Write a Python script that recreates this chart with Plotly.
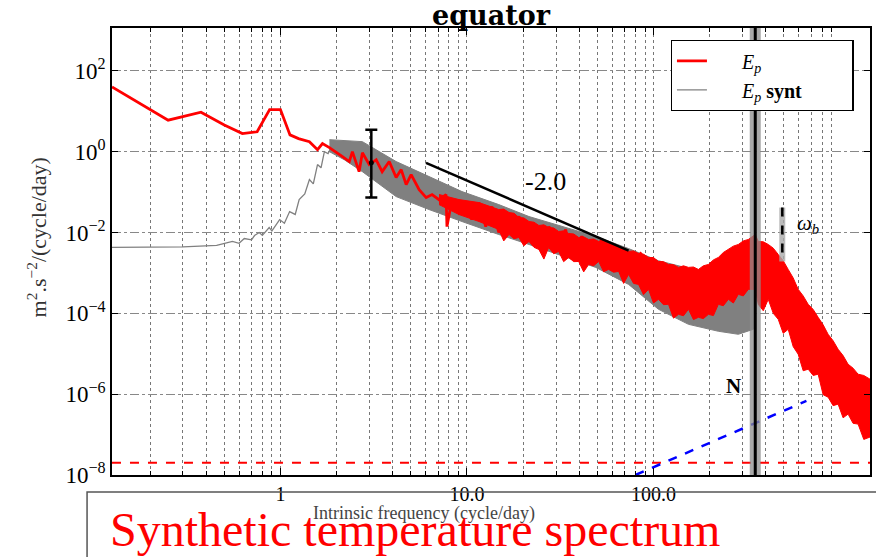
import plotly.graph_objects as go

SERIF = "Liberation Serif"

# ---------------- data ----------------
# E_p (red) : low-frequency line and jagged mid range
ep_freq = [0.125, 0.25, 0.375, 0.5, 0.625, 0.75, 0.875, 1.0, 1.125, 1.25,
           1.43, 1.58, 1.68, 1.83, 2.15, 2.34, 2.43, 2.64, 2.75, 2.99,
           3.26, 3.51, 3.83, 4.17, 4.44, 4.72, 5.02, 5.54, 6.04, 6.50,
           7.08, 7.72, 7.81, 8.31, 9.06, 9.88, 10.6, 11.6, 12.6, 13.6,
           14.8, 16.2, 17.4, 19.0, 20.7, 22.3, 25.2, 27.5, 31.0, 33.8,
           36.4, 41.2, 46.6, 52.7, 59.6, 65.0, 73.5, 86.3]
ep_vals = [40, 6.0, 9.5, 4.6, 2.8, 3.1, 11, 11, 2.6, 2.1,
           1.77, 1.12, 1.58, 1.26, 0.75, 0.57, 1.0, 0.32, 0.94, 0.48,
           0.63, 0.32, 0.57, 0.23, 0.36, 0.153, 0.27, 0.115, 0.073, 0.087,
           0.065, 0.087, 0.014, 0.065, 0.031, 0.058, 0.021, 0.055, 0.014, 0.044,
           0.010, 0.028, 0.0119, 0.025, 0.0067, 0.0177, 0.0032, 0.014, 0.0038, 0.0119,
           0.0022, 0.008, 0.0022, 0.0067, 0.0018, 0.0043, 0.00145, 0.0032]

# E_p (red) dense high-frequency band: upper / lower envelopes
band_freq = [7.08, 9.06, 11.6, 14.8, 15.74, 16.8, 17.87, 18.97, 20.17, 21.5,
             22.87, 24.3, 25.84, 27.4, 29.14, 31.0, 32.97, 35.1, 37.33, 39.7,
             42.22, 44.9, 47.75, 50.8, 54.03, 57.4, 61.04, 65.0, 69.13, 73.5,
             78.17, 83.1, 88.38, 94.0, 99.97, 106.3, 113.0, 120.3, 127.9, 136.1,
             144.7, 153.9, 163.7, 174.0, 185.0, 196.9, 209.4, 222.6, 236.7, 251.8,
             267.8, 284.8, 302.9, 322.2, 351, 364.4, 387.5, 412.1, 438.3, 466.1,
             495.7, 527.2, 560.7, 596.3, 634.2, 674.5, 717.3, 762.9, 811.3, 862.8,
             917.6, 976, 1038, 1104, 1174, 1249, 1340, 1447]
band_up = [0.087, 0.0653, 0.055, 0.037, 0.038, 0.0312, 0.030, 0.0235, 0.023, 0.0187,
           0.018, 0.0149, 0.0155, 0.0133, 0.013, 0.0106, 0.011, 0.00944, 0.0092, 0.00753,
           0.0078, 0.00672, 0.0069, 0.006, 0.0062, 0.00535, 0.0052, 0.00427, 0.0042, 0.0034,
           0.0035, 0.00303, 0.0029, 0.00242, 0.0024, 0.00192, 0.0019, 0.00162, 0.0016, 0.00137,
           0.0015, 0.00137, 0.0014, 0.00122, 0.0015, 0.00162, 0.0021, 0.00242, 0.0032, 0.0038,
           0.0046, 0.00506, 0.0062, 0.00672, 0.00893, 0.0060, 0.0059, 0.00506, 0.0041, 0.00286,
           0.0020, 0.00122, 0.00075, 0.000392, 0.00027, 0.000167, 0.000125, 7.97e-5, 5.2e-5, 3.03e-5,
           2.1e-5, 1.29e-5, 9.0e-6, 5.51e-6, 4.4e-6, 3.12e-6, 2.9e-6, 2.35e-6]
band_lo = [0.0491, 0.0278, 0.0187, 0.0119, 0.0062, 0.00893, 0.0070, 0.00753, 0.0047, 0.006,
           0.0043, 0.0038, 0.0022, 0.00427, 0.0030, 0.0034, 0.0019, 0.00242, 0.0019, 0.00192,
           0.00106, 0.00162, 0.0015, 0.00192, 0.00107, 0.00122, 0.00104, 0.00109, 0.00055, 0.000918,
           0.00055, 0.00052, 0.00029, 0.000392, 0.00018, 0.000222, 0.000164, 0.000167, 7.6e-5, 9.45e-5,
           8.7e-5, 0.000126, 7e-5, 7.97e-5, 7.4e-5, 9.45e-5, 8.8e-5, 0.000167, 0.000154, 0.000222,
           0.00018, 0.000295, 0.00027, 0.000392, 0.000392, 0.000167, 0.000116, 0.000222, 0.0001, 7.11e-5,
           3.2e-5, 4.03e-5, 1.5e-5, 9.72e-6, 3.8e-6, 4.15e-6, 2.9e-6, 3.12e-6, 9.7e-7, 8.43e-7,
           5.2e-7, 5.67e-7, 2.6e-7, 3.21e-7, 1.9e-7, 1.82e-7, 7.6e-8, 8.67e-8]

# E_p synt (gray): thin low-frequency line and band
syn_freq = [0.125, 0.2, 0.3, 0.455, 0.553, 0.6, 0.64, 0.7, 0.726, 0.77,
            0.8, 0.87, 0.9, 0.99, 1.05, 1.12, 1.2, 1.26, 1.35, 1.43,
            1.5, 1.58, 1.65, 1.72, 1.8, 1.9, 2.0, 2.07, 2.2, 2.34]
syn_vals = [0.00427, 0.00427, 0.0044, 0.00478, 0.0060, 0.0054, 0.0071, 0.0066, 0.0084, 0.010,
            0.0085, 0.0133, 0.011, 0.0209, 0.017, 0.033, 0.028, 0.065, 0.09, 0.204,
            0.16, 0.48, 0.40, 1.0, 0.9, 1.49, 1.2, 1.67, 1.3, 1.41]
syn_band_freq = [1.83, 2.2, 2.75, 4.17, 6.26, 9.4, 14.8, 21.5, 49.0, 73.5,
                 106.3, 153.9, 222.6, 284.8, 343]
syn_band_up = [1.98, 1.87, 1.77, 0.57, 0.241, 0.103, 0.0491, 0.0248, 0.0080, 0.0040,
               0.0020, 0.0013, 0.00100, 0.000438, 0.000392]
syn_band_lo = [1.0, 0.63, 0.32, 0.0774, 0.037, 0.0187, 0.00893, 0.00506, 0.00137, 0.00052,
               0.000126, 5.35e-5, 3.6e-5, 3.03e-5, 4.03e-5]

# reference lines / markers
slope_freq = [6.03, 73.5]
slope_vals = [0.53, 0.00357]
blue_freq = [80, 660]
blue_vals = [1.0e-8, 6.8e-7]
noise_freq = [0.125, 1447]
noise_vals = [2e-8, 2e-8]
N_freq = 351
wb_freq = 490
wb_vals = [0.0414, 0.00192]
err_freq = 3.07
err_center = 0.53
err_hi = 3.5
err_lo = 0.073

x_major = [1, 10, 100]
x_major_text = ["1", "10.0", "100.0"]
x_minor = [0.2, 0.3, 0.4, 0.5, 0.6, 0.7, 0.8, 0.9,
           2, 3, 4, 5, 6, 7, 8, 9,
           20, 30, 40, 50, 60, 70, 80, 90,
           200, 300, 400, 500, 600, 700, 800, 900]
y_major = [1e2, 1e0, 1e-2, 1e-4, 1e-6, 1e-8]
y_major_text = ["10<sup>2</sup>", "10<sup>0</sup>", "10<sup>−2</sup>",
                "10<sup>−4</sup>", "10<sup>−6</sup>", "10<sup>−8</sup>"]

RED = "#ff0000"
GRAY = "#808080"
PAD = "\u00a0" * 6
TAIL = "\u00a0" * 9

fig = go.Figure()

# synthetic (gray)
fig.add_trace(go.Scatter(x=syn_freq, y=syn_vals, mode="lines",
                         line=dict(color=GRAY, width=1.3),
                         name=PAD + "<i>E<sub>p</sub></i>\u00a0<b>synt</b>" + TAIL,
                         legendrank=2))
fig.add_trace(go.Scatter(x=syn_band_freq + syn_band_freq[::-1],
                         y=syn_band_up + syn_band_lo[::-1],
                         fill="toself", fillcolor=GRAY, mode="lines",
                         line=dict(color=GRAY, width=1), showlegend=False, hoverinfo="skip"))

# E_p (red)
fig.add_trace(go.Scatter(x=band_freq + band_freq[::-1],
                         y=band_up + band_lo[::-1],
                         fill="toself", fillcolor=RED, mode="lines",
                         line=dict(color=RED, width=1), showlegend=False, hoverinfo="skip"))
fig.add_trace(go.Scatter(x=ep_freq, y=ep_vals, mode="lines",
                         line=dict(color=RED, width=2.8),
                         name=PAD + "<i>E<sub>p</sub></i>", legendrank=1))

# noise floor and blue dashed line
fig.add_trace(go.Scatter(x=noise_freq, y=noise_vals, mode="lines",
                         line=dict(color=RED, width=2, dash="dash"), showlegend=False))
fig.add_trace(go.Scatter(x=blue_freq, y=blue_vals, mode="lines",
                         line=dict(color="#0000ff", width=2.5, dash="dash"), showlegend=False))

# N line with gray shadow
fig.add_trace(go.Scatter(x=[N_freq, N_freq], y=[1e-9, 1e4], mode="lines",
                         line=dict(color="rgba(140,140,140,0.75)", width=11), showlegend=False))
fig.add_trace(go.Scatter(x=[N_freq, N_freq], y=[1e-9, 1e4], mode="lines",
                         line=dict(color="black", width=3), showlegend=False))

# omega_b
fig.add_trace(go.Scatter(x=[wb_freq, wb_freq], y=wb_vals, mode="lines",
                         line=dict(color="rgba(170,170,170,0.8)", width=6), showlegend=False))
fig.add_trace(go.Scatter(x=[wb_freq, wb_freq], y=wb_vals, mode="lines",
                         line=dict(color="black", width=2.5, dash="dash"), showlegend=False))

# slope line
fig.add_trace(go.Scatter(x=slope_freq, y=slope_vals, mode="lines",
                         line=dict(color="black", width=2.5), showlegend=False))

# error bar
fig.add_trace(go.Scatter(x=[err_freq], y=[err_center], mode="markers",
                         marker=dict(color="black", size=5),
                         error_y=dict(type="data", symmetric=False,
                                      array=[err_hi - err_center],
                                      arrayminus=[err_center - err_lo],
                                      color="black", thickness=2.5, width=6),
                         showlegend=False))

axis_common = dict(showline=True, linecolor="black", linewidth=1.5, mirror="ticks",
                   ticks="inside", tickcolor="black", zeroline=False)

fig.update_xaxes(type="log", range=[-0.903, 3.1604],
                 tickmode="array", tickvals=x_major, ticktext=x_major_text,
                 ticklen=7, tickwidth=1,
                 tickfont=dict(family=SERIF, size=20, color="black"),
                 showgrid=True, gridcolor="#777777", gridwidth=1, griddash="dot",
                 minor=dict(tickmode="array", tickvals=x_minor, ticks="inside",
                            ticklen=4, tickcolor="black", showgrid=True,
                            gridcolor="#777777", gridwidth=1, griddash="dot"),
                 **axis_common)
fig.update_yaxes(type="log", range=[-8, 3.06],
                 tickmode="array", tickvals=y_major, ticktext=y_major_text,
                 ticklen=6, tickwidth=1,
                 tickfont=dict(family=SERIF, size=23, color="black"),
                 showgrid=True, gridcolor="#888888", gridwidth=1, griddash="dashdot",
                 **axis_common)

annotations = [
    dict(text="<b>equator</b>", x=0.5, y=1.029, xref="paper", yref="paper",
         xanchor="center", yanchor="middle",
         showarrow=False, font=dict(family="DejaVu Serif", size=27, color="black")),
    dict(text="m<sup>2</sup>.s<sup>−2</sup>/(cycle/day)", x=-0.0987, y=0.532,
         xref="paper", yref="paper", xanchor="center", yanchor="middle",
         textangle=-90, showarrow=False,
         font=dict(family=SERIF, size=22, color="#333333")),
    dict(text="Intrinsic frequency (cycle/day)", x=0.412, y=-0.087,
         xref="paper", yref="paper", xanchor="center", yanchor="middle", showarrow=False,
         font=dict(family=SERIF, size=18, color="#444444")),
    dict(text="-2.0", x=1.422, y=-0.741, xref="x", yref="y", showarrow=False,
         xanchor="center", yanchor="middle",
         font=dict(family=SERIF, size=26, color="black")),
    dict(text="<b>N</b>", x=2.428, y=-5.80, xref="x", yref="y", showarrow=False,
         xanchor="center", yanchor="middle",
         font=dict(family=SERIF, size=21, color="black")),
    dict(text="<i>ω<sub>b</sub></i>", x=2.829, y=-1.778, xref="x", yref="y", showarrow=False,
         xanchor="center", yanchor="middle",
         font=dict(family=SERIF, size=21, color="black")),
    dict(text="Synthetic temperature spectrum", x=-0.005, y=-0.123,
         xref="paper", yref="paper", xanchor="left", yanchor="middle", showarrow=False,
         font=dict(family=SERIF, size=48, color="#ff0000")),
]

shapes = [
    dict(type="rect", xref="paper", yref="paper", x0=-0.0329, x1=1.02, y0=-0.3, y1=-0.038,
         line=dict(color="#555555", width=1.5), fillcolor="rgba(0,0,0,0)", layer="above"),
]

fig.update_layout(
    width=876, height=557,
    margin=dict(l=112, r=4, t=28, b=82),
    paper_bgcolor="white", plot_bgcolor="white",
    showlegend=True,
    legend=dict(x=0.737, y=0.973, xanchor="left", yanchor="top",
                bgcolor="white", bordercolor="black", borderwidth=1.3,
                font=dict(family=SERIF, size=20, color="black"),
                tracegroupgap=0),
    annotations=annotations, shapes=shapes,
)

fig.write_html("out.html")
